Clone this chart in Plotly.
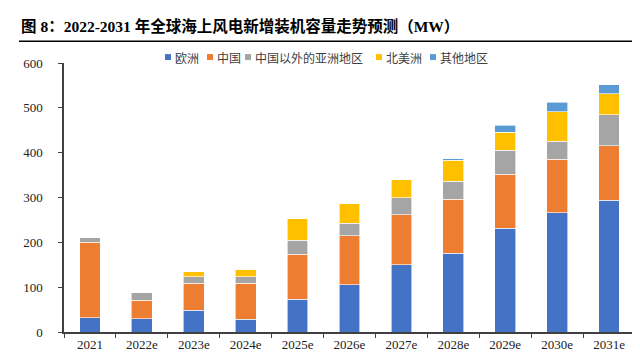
import plotly.graph_objects as go

categories = ["2021", "2022e", "2023e", "2024e", "2025e", "2026e", "2027e", "2028e", "2029e", "2030e", "2031e"]
europe = [32, 30, 48, 28, 73, 105, 150, 176, 231, 266, 294]
china = [168, 41, 61, 81, 100, 110, 111, 120, 121, 119, 121]
asia_ex_china = [10, 18, 14, 14, 32, 28, 39, 40, 53, 41, 70]
north_america = [0, 0, 11, 17, 48, 44, 40, 47, 41, 65, 46]
others = [0, 0, 0, 0, 0, 0, 0, 4, 15, 21, 20]

series_names = ["欧洲", "中国", "中国以外的亚洲地区", "北美洲", "其他地区"]
series_values = [europe, china, asia_ex_china, north_america, others]
series_colors = ["#4472C4", "#ED7D31", "#A5A5A5", "#FFC000", "#5B9BD5"]

y_ticks = [0, 100, 200, 300, 400, 500, 600]

# plot-area geometry (pixels)
W, H = 640, 356
L, R, T, B = 56, 13, 55, 29
PW, PH = W - L - R, H - T - B


def px(x):
    return (x - L) / PW


def py(y):
    return (H - B - y) / PH


fig = go.Figure()
for name, vals, color in zip(series_names, series_values, series_colors):
    fig.add_trace(go.Bar(
        x=categories, y=vals, name=name,
        marker=dict(color=color, line=dict(color="white", width=0.6)),
        showlegend=False,
    ))

serif = "Liberation Serif, Times New Roman, Noto Sans CJK SC, serif"
axis_color = "#404040"

# compact legend, drawn like the original (small square + label)
legend_left = [157, 199, 237, 368, 422]
legend_y = 49
shapes = []
annotations = []
for name, color, lx in zip(series_names, series_colors, legend_left):
    shapes.append(dict(
        type="rect", xref="paper", yref="paper",
        x0=px(lx), x1=px(lx + 6), y0=py(legend_y + 3), y1=py(legend_y - 3),
        fillcolor=color, line=dict(width=0),
    ))
    annotations.append(dict(
        text=name, xref="paper", yref="paper", x=px(lx + 8), y=py(legend_y),
        xanchor="left", yanchor="middle", showarrow=False,
        font=dict(family="Noto Sans CJK SC", size=12, color="#404040"),
    ))

annotations.append(dict(
    text="图 8：2022-2031 年全球海上风电新增装机容量走势预测（MW）",
    xref="paper", yref="paper", x=px(11), y=py(18),
    xanchor="left", yanchor="middle", showarrow=False,
    font=dict(family="Liberation Serif, Noto Sans CJK SC", size=15.5, color="black", weight="bold"),
))
shapes.append(dict(
    type="line", xref="paper", yref="paper",
    x0=px(11), x1=px(633), y0=py(33), y1=py(33),
    line=dict(color="black", width=1.5),
))

fig.update_layout(
    barmode="stack",
    bargap=0.6,
    width=W, height=H,
    margin=dict(l=L, r=R, t=T, b=B),
    paper_bgcolor="white", plot_bgcolor="white",
    showlegend=False,
    xaxis=dict(
        showline=True, linecolor=axis_color, linewidth=1.5,
        ticks="outside", tickson="boundaries", ticklen=4, tickcolor=axis_color, tickwidth=1.2,
        tickfont=dict(family=serif, size=13, color="#222"),
        showgrid=False, fixedrange=True,
    ),
    yaxis=dict(
        range=[0, 600], tickvals=y_ticks,
        showline=True, linecolor=axis_color, linewidth=1.5,
        ticks="outside", ticklen=4, tickcolor=axis_color, tickwidth=1.2,
        ticklabelstandoff=13,
        tickfont=dict(family=serif, size=13, color="#222"),
        showgrid=False, zeroline=False, fixedrange=True,
    ),
    annotations=annotations,
    shapes=shapes,
)

fig.write_html("out.html")
